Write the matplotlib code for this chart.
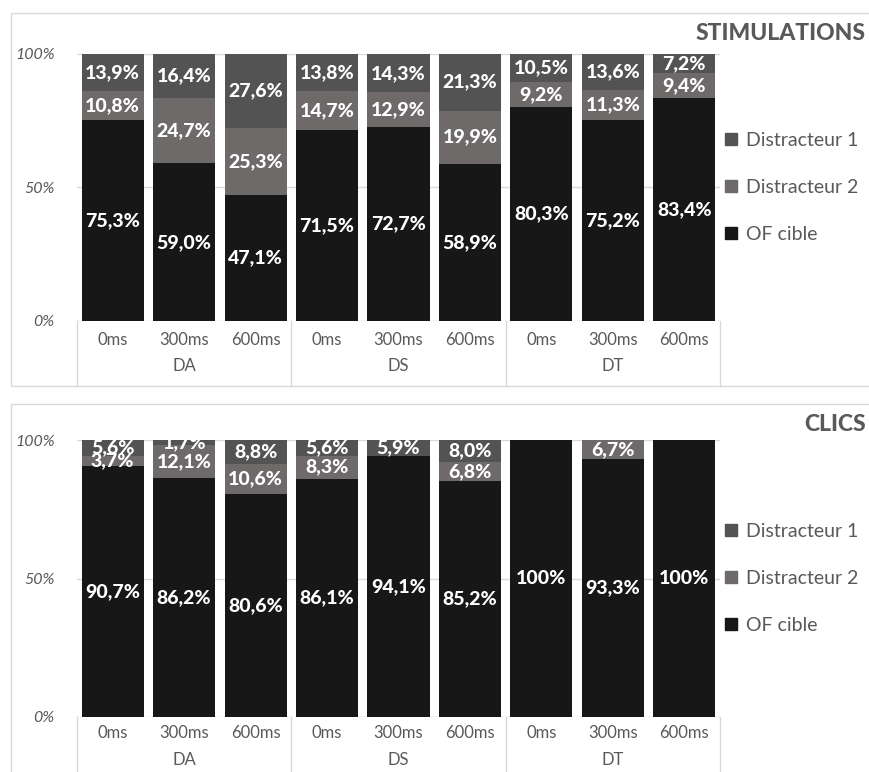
import matplotlib.pyplot as plt
from matplotlib.patches import Patch, Rectangle
from matplotlib import transforms
import numpy as np

plt.rcParams['font.family'] = ['Lato', 'DejaVu Sans']

# data
delays = ["0ms", "300ms", "600ms"] * 3
groups = ["DA", "DS", "DT"]
series = ["OF cible", "Distracteur 2", "Distracteur 1"]
colors = ["#171717", "#6e6a6a", "#535353"]

stim_of = [75.3, 59.0, 47.1, 71.5, 72.7, 58.9, 80.3, 75.2, 83.4]
stim_d2 = [10.8, 24.7, 25.3, 14.7, 12.9, 19.9, 9.2, 11.3, 9.4]
stim_d1 = [13.9, 16.4, 27.6, 13.8, 14.3, 21.3, 10.5, 13.6, 7.2]

clic_of = [90.7, 86.2, 80.6, 86.1, 94.1, 85.2, 100, 93.3, 100]
clic_d2 = [3.7, 12.1, 10.6, 8.3, 0, 6.8, 0, 6.7, 0]
clic_d1 = [5.6, 1.7, 8.8, 5.6, 5.9, 8.0, 0, 0, 0]

W, H = 869, 772
fig = plt.figure(figsize=(W / 100, H / 100), dpi=100)
grey = "#595959"
light = "#d9d9d9"


def fmt(v):
    if v >= 99.95:
        return "100%"
    return ("%.1f%%" % v).replace(".", ",")


def panel(top, bottom, frame_top, frame_bottom, title, title_y, data, tick_px, grp_px):
    # frame
    fig.patches.append(Rectangle((11 / W, 1 - frame_bottom / H), 1, (frame_bottom - frame_top) / H,
                                 transform=fig.transFigure, fill=False, edgecolor=light, lw=1))
    ax = fig.add_axes([77 / W, 1 - bottom / H, (720 - 77) / W, (bottom - top) / H])
    x = np.arange(9)
    base = np.zeros(9)
    for vals, name, c in zip(data, series, colors):
        vals = np.array(vals)
        ax.bar(x, vals, 0.87, bottom=base, color=c, label=name, zorder=2)
        for xi, b, v in zip(x, base, vals):
            if v > 0:
                ax.text(xi, b + v / 2, fmt(v), ha="center", va="center", color="white",
                        fontsize=14, fontweight=900, zorder=3, clip_on=True)
        base = base + vals
    ax.set_xlim(-0.5, 8.5)
    ax.set_ylim(0, 100)
    for s in ax.spines.values():
        s.set_visible(False)
    ax.set_yticks([0, 50, 100])
    ax.set_yticklabels(["0%", "50%", "100%"], fontstyle="italic", color=grey, fontsize=11.5)
    ax.tick_params(axis="y", length=0, pad=16)
    ax.set_xticks([])
    for yv in [0, 50, 100]:
        ax.axhline(yv, color=light, lw=1, zorder=1)

    h_px = bottom - top
    trans = transforms.blended_transform_factory(ax.transData, ax.transAxes)
    drop = (frame_bottom - bottom) / h_px
    for xs in [-0.5, 2.5, 5.5, 8.5]:
        ax.plot([xs, xs], [0, -drop], color=light, lw=1, transform=trans, clip_on=False)
    for xi, lab in enumerate(delays):
        ax.text(xi, -tick_px / h_px, lab, ha="center", va="center", color=grey, fontsize=12,
                transform=trans)
    for gi, g in enumerate(groups):
        ax.text(gi * 3 + 1, -grp_px / h_px, g, ha="center", va="center", color=grey, fontsize=12,
                transform=trans)

    handles = [Patch(color=colors[i], label=series[i]) for i in [2, 1, 0]]
    ax.legend(handles=handles, loc="center left", bbox_to_anchor=(1.008, 0.5), frameon=False,
              fontsize=14, labelcolor=grey, handlelength=0.6, handleheight=0.6,
              handletextpad=0.45, labelspacing=1.55, borderpad=0, borderaxespad=0)
    fig.text(866 / W, 1 - title_y / H, title, ha="right", va="center", color=grey,
             fontsize=16.5, fontweight=900)
    return ax


panel(54, 321, 13, 386, "STIMULATIONS", 33, [stim_of, stim_d2, stim_d1], 19, 45)
panel(440, 717, 404, 790, "CLICS", 425, [clic_of, clic_d2, clic_d1], 16, 43)

fig.savefig("out.png", dpi=100)
